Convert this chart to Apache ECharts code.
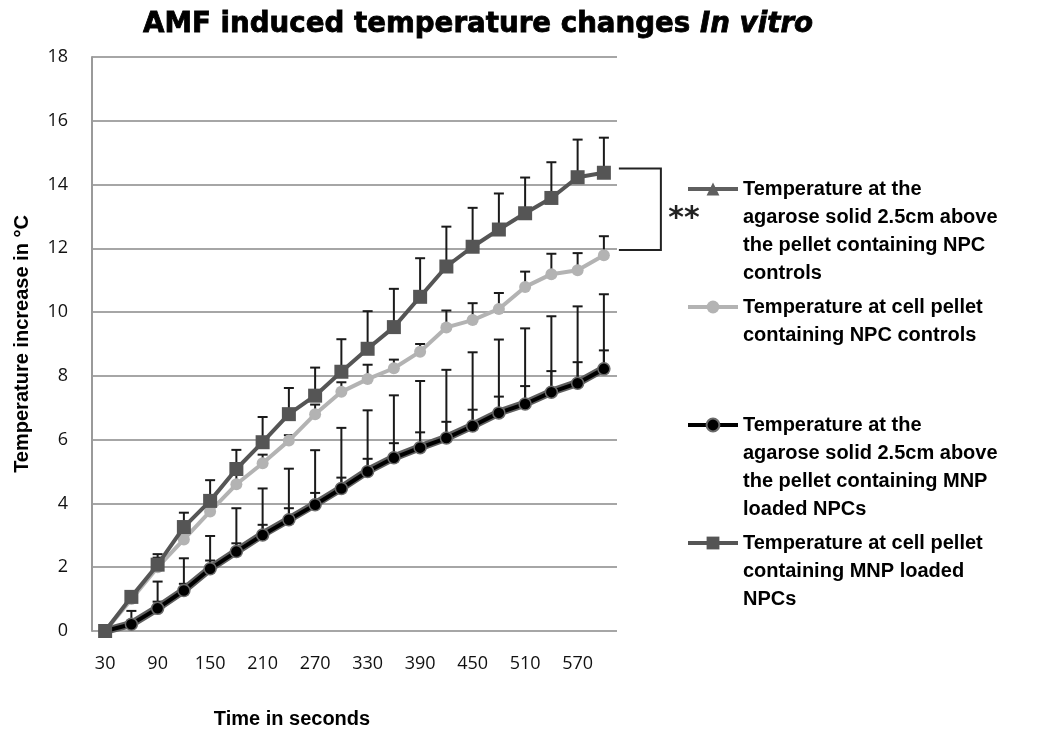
<!DOCTYPE html>
<html>
<head>
<meta charset="utf-8">
<script src="https://cdn.jsdelivr.net/npm/echarts@6/dist/echarts.min.js"></script>
<style>html,body{margin:0;padding:0;background:#fff;}#c{width:1050px;height:734px;}</style>
</head>
<body>
<div id="c"></div>
<script>
var times = ['30','60','90','120','150','180','210','240','270','300','330','360','390','420','450','480','510','540','570','600'];
var yTicks = [0, 18, 2];

var nameNpcAgarose = 'Temperature at the agarose solid 2.5cm above the pellet containing NPC controls';
var nameNpcPellet = 'Temperature at cell pellet containing NPC controls';
var nameMnpAgarose = 'Temperature at the agarose solid 2.5cm above the pellet containing MNP loaded NPCs';
var nameMnpPellet = 'Temperature at cell pellet containing MNP loaded NPCs';

var legendLines = {};
legendLines[nameNpcAgarose] = ['Temperature at the', 'agarose solid 2.5cm above', 'the pellet containing NPC', 'controls'];
legendLines[nameNpcPellet] = ['Temperature at cell pellet', 'containing NPC controls'];
legendLines[nameMnpAgarose] = ['Temperature at the', 'agarose solid 2.5cm above', 'the pellet containing MNP', 'loaded NPCs'];
legendLines[nameMnpPellet] = ['Temperature at cell pellet', 'containing MNP loaded', 'NPCs'];

var npcAgarose    = [0, 0.22, 0.72, 1.28, 1.96, 2.5, 3.03, 3.5, 3.98, 4.48, 5.02, 5.44, 5.76, 6.06, 6.44, 6.85, 7.13, 7.5, 7.78, 8.23];
var npcAgaroseErr = [0, 0.1, 0.2, 0.2, 0.25, 0.25, 0.3, 0.35, 0.35, 0.33, 0.38, 0.45, 0.47, 0.5, 0.5, 0.5, 0.55, 0.65, 0.65, 0.57];

var npcPellet    = [0, 1.0, 2.0, 2.87, 3.75, 4.6, 5.26, 5.97, 6.8, 7.5, 7.9, 8.24, 8.76, 9.52, 9.75, 10.1, 10.79, 11.19, 11.31, 11.78];
var npcPelletErr = [0, 0.2, 0.3, 0.35, 0.35, 0.3, 0.27, 0.17, 0.3, 0.3, 0.45, 0.27, 0.24, 0.53, 0.53, 0.5, 0.48, 0.64, 0.54, 0.6];

var mnpAgarose    = [0, 0.21, 0.71, 1.27, 1.95, 2.49, 3.01, 3.49, 3.96, 4.47, 5.0, 5.43, 5.75, 6.05, 6.43, 6.84, 7.12, 7.49, 7.77, 8.22];
var mnpAgaroseErr = [0, 0.42, 0.84, 1.01, 1.03, 1.36, 1.46, 1.6, 1.71, 1.9, 1.92, 1.96, 2.09, 2.14, 2.31, 2.3, 2.37, 2.38, 2.41, 2.34];

var mnpPellet    = [0, 1.07, 2.08, 3.26, 4.08, 5.08, 5.92, 6.8, 7.38, 8.13, 8.85, 9.53, 10.48, 11.43, 12.05, 12.59, 13.1, 13.58, 14.23, 14.37];
var mnpPelletErr = [0, 0, 0.33, 0.45, 0.65, 0.6, 0.79, 0.82, 0.88, 1.02, 1.18, 1.2, 1.21, 1.25, 1.22, 1.13, 1.12, 1.12, 1.18, 1.1];

var bracketTop = 14.5, bracketBottom = 11.95;
var significance = '**';

var FONT = 'Liberation Sans, Arial, sans-serif';
var TICKFONT = 'Open Sans, Liberation Sans, sans-serif';

function errData(vals, errs) {
  return vals.map(function (v, i) { return [i, v, errs[i]]; });
}
function errSeries(vals, errs) {
  return {
    type: 'custom',
    z: 1,
    silent: true,
    data: errData(vals, errs),
    renderItem: function (params, api) {
      var e = api.value(2);
      if (!(e > 0)) return null;
      var p0 = api.coord([api.value(0), api.value(1)]);
      var p1 = api.coord([api.value(0), api.value(1) + e]);
      var st = { stroke: '#1a1a1a', lineWidth: 2 };
      return {
        type: 'group',
        children: [
          { type: 'line', shape: { x1: p0[0], y1: p0[1], x2: p1[0], y2: p1[1] }, style: st },
          { type: 'line', shape: { x1: p1[0] - 5, y1: p1[1], x2: p1[0] + 5, y2: p1[1] }, style: st }
        ]
      };
    }
  };
}

// Prepend blank lines so the first text line is level with the legend icon.
function wrapText(name) {
  var lines = legendLines[name] || [name];
  var pre = [];
  for (var i = 0; i < lines.length - 1; i++) pre.push(' ');
  return pre.concat(lines).join('\n');
}

function legendFor(name, iconCenterY) {
  var n = legendLines[name].length;
  var total = (2 * n - 1) * 28;
  return {
    data: [name],
    left: 686,
    top: iconCenterY - total / 2,
    padding: 0,
    itemWidth: 50,
    itemHeight: 16,
    itemGap: 0,
    selectedMode: false,
    formatter: wrapText,
    lineStyle: { width: 4 },
    textStyle: {
      fontFamily: FONT, fontSize: 20, fontWeight: 'bold', color: '#000',
      lineHeight: 28
    }
  };
}

var chart = echarts.init(document.getElementById('c'), null, { renderer: 'canvas' });
var option = {
  animation: false,
  backgroundColor: '#fff',
  title: {
    text: '{a|AMF induced temperature changes }{b|In vitro}',
    left: 138, top: 6,
    textStyle: {
      rich: {
        a: { fontFamily: 'DejaVu Sans, sans-serif', fontSize: 27.7, fontWeight: 'bold', color: '#000', textBorderColor: '#000', textBorderWidth: 0.8 },
        b: { fontFamily: 'DejaVu Sans, sans-serif', fontSize: 27.7, fontWeight: 'bold', fontStyle: 'italic', color: '#000', textBorderColor: '#000', textBorderWidth: 0.8 }
      }
    }
  },
  grid: { left: 92, right: 433, top: 57, bottom: 99, containLabel: false },
  legend: [
    legendFor(nameNpcAgarose, 189),
    legendFor(nameNpcPellet, 307),
    legendFor(nameMnpAgarose, 425),
    legendFor(nameMnpPellet, 543)
  ],
  xAxis: {
    type: 'category',
    data: times,
    boundaryGap: true,
    name: 'Time in seconds',
    nameLocation: 'middle',
    nameGap: 78,
    nameTextStyle: { fontFamily: FONT, fontSize: 20, fontWeight: 'bold', color: '#000', padding: [0, 125, 0, 0] },
    axisLine: { show: false },
    axisTick: { show: false },
    axisLabel: { interval: 1, margin: 24, fontFamily: TICKFONT, fontSize: 18, color: '#111' }
  },
  yAxis: {
    type: 'value',
    min: yTicks[0], max: yTicks[1], interval: yTicks[2],
    name: 'Temperature increase in °C',
    nameLocation: 'middle',
    nameGap: 60,
    nameTextStyle: { fontFamily: FONT, fontSize: 20, fontWeight: 'bold', color: '#000' },
    axisLine: { show: true, lineStyle: { color: '#9a9a9a', width: 2 } },
    axisTick: { show: false },
    axisLabel: { margin: 24, fontFamily: TICKFONT, fontSize: 18, color: '#111' },
    splitLine: { show: true, lineStyle: { color: '#a6a6a6', width: 2 } }
  },
  series: [
    errSeries(npcAgarose, npcAgaroseErr),
    errSeries(mnpAgarose, mnpAgaroseErr),
    errSeries(npcPellet, npcPelletErr),
    errSeries(mnpPellet, mnpPelletErr),
    {
      name: nameNpcAgarose, type: 'line', z: 2, data: npcAgarose,
      symbol: 'triangle', symbolSize: 10,
      lineStyle: { color: '#5f5f5f', width: 8 },
      itemStyle: { color: '#5f5f5f' }
    },
    {
      name: nameMnpAgarose, type: 'line', z: 3, data: mnpAgarose,
      symbol: 'circle', symbolSize: 12,
      lineStyle: { color: '#000', width: 4 },
      itemStyle: { color: '#000', borderColor: '#6a6a6a', borderWidth: 1.5 }
    },
    {
      name: nameNpcPellet, type: 'line', z: 4, data: npcPellet,
      symbol: 'circle', symbolSize: 12,
      lineStyle: { color: '#b3b3b3', width: 4 },
      itemStyle: { color: '#b3b3b3' }
    },
    {
      name: nameMnpPellet, type: 'line', z: 5, data: mnpPellet,
      symbol: 'rect', symbolSize: 14,
      lineStyle: { color: '#555', width: 4 },
      itemStyle: { color: '#555' }
    }
  ]
};
chart.setOption(option);

var yt = chart.convertToPixel({ yAxisIndex: 0 }, bracketTop);
var yb = chart.convertToPixel({ yAxisIndex: 0 }, bracketBottom);
var xr = chart.convertToPixel({ xAxisIndex: 0 }, times.length - 1) + 15;
chart.setOption({
  graphic: [
    { type: 'polyline', silent: true,
      shape: { points: [[xr, yt], [xr + 42, yt], [xr + 42, yb], [xr, yb]] },
      style: { stroke: '#222', lineWidth: 2, fill: null } },
    { type: 'text', silent: true, x: xr + 65, y: (yt + yb) / 2 + 10,
      style: { text: significance, fontFamily: 'DejaVu Sans, sans-serif', fontSize: 30, fontWeight: 'bold', fill: '#222', align: 'center', verticalAlign: 'middle' } }
  ]
});
</script>
</body>
</html>
